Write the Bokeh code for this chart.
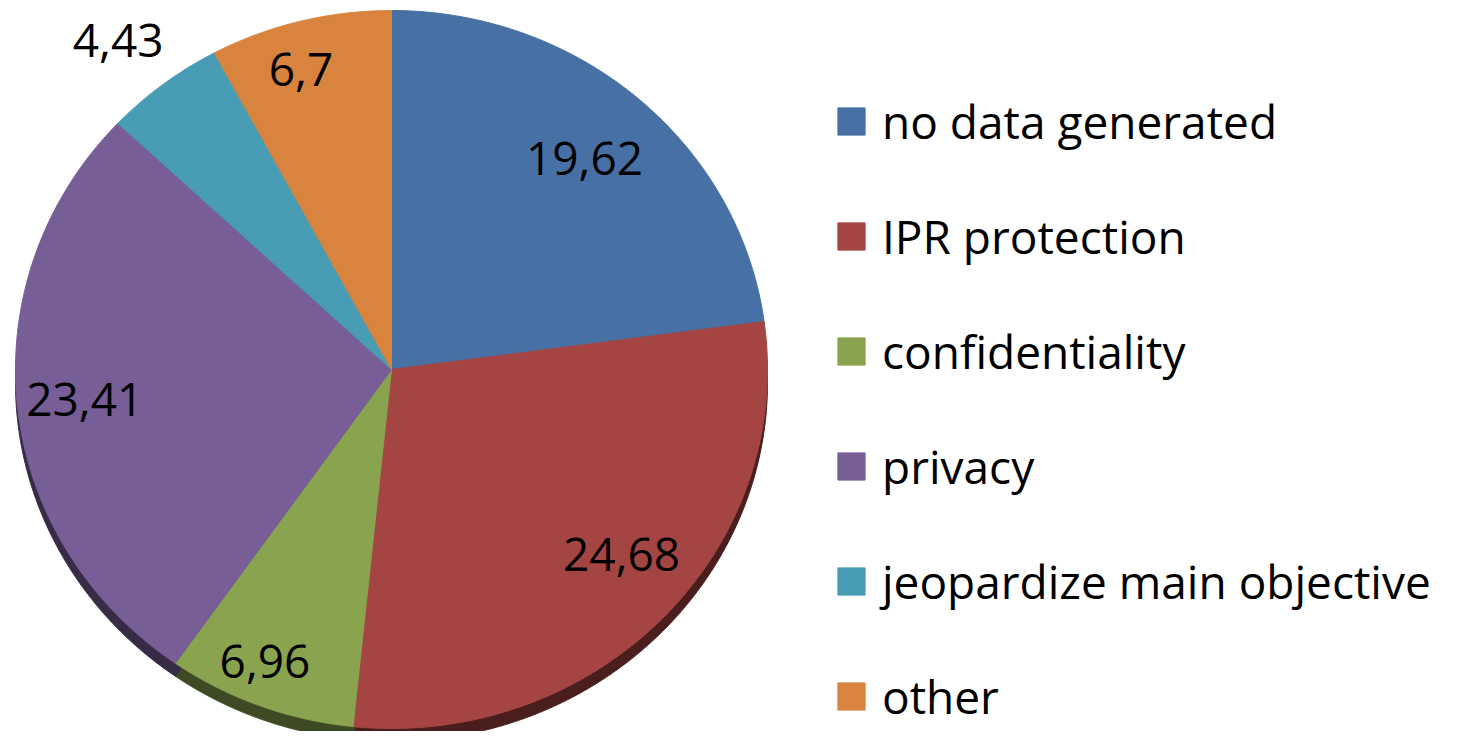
import numpy as np
from bokeh.plotting import figure, ColumnDataSource
from bokeh.models import Range1d, Legend, LegendItem
from bokeh.core.properties import value
from bokeh.embed import file_html
from bokeh.resources import INLINE

# ---- data ----
categories = ["no data generated", "IPR protection", "confidentiality",
              "privacy", "jeopardize main objective", "other"]
values = [19.62, 24.68, 6.96, 23.41, 4.43, 6.7]
value_labels = ["19,62", "24,68", "6,96", "23,41", "4,43", "6,7"]

# ---- style ----
colors = ["#4771A5", "#A54543", "#89A34F", "#785E97", "#489CB4", "#D8843F"]
rim_colors = ["#2A4263", "#4A1E1D", "#3E4A24", "#372B46", "#214855", "#633C1D"]
label_r = [0.78, 0.80, 0.88, 0.82, 1.17, 0.87]
label_da = [0, 4, -2, 0, 1, 2]
CX, CY, RX, RY, RIM = 391, 369, 376, 359, 13
FONT = "Open Sans"

W, H = 1441, 731
p = figure(width=W, height=H, output_backend="svg", toolbar_location=None,
           x_range=Range1d(0, W), y_range=Range1d(H, 0),
           min_border=0, outline_line_color=None)
p.axis.visible = False
p.grid.visible = False
p.background_fill_color = "white"
p.border_fill_color = "white"

vals = np.array(values, dtype=float)
frac = vals / vals.sum()
cum = np.concatenate([[0], np.cumsum(frac)])
start = 90 - cum[:-1] * 360
end = 90 - cum[1:] * 360

def slice_poly(a0, a1, dy=0.0):
    t = np.radians(np.linspace(a0, a1, 240))
    xs = np.concatenate([[CX], CX + RX * np.cos(t), [CX]])
    ys = np.concatenate([[CY + dy], CY + dy - RY * np.sin(t), [CY + dy]])
    return list(xs), list(ys)

rim_x, rim_y, face_x, face_y = [], [], [], []
for a0, a1 in zip(start, end):
    x, y = slice_poly(a0, a1, RIM)
    rim_x.append(x); rim_y.append(y)
    x, y = slice_poly(a0, a1)
    face_x.append(x); face_y.append(y)

p.patches(rim_x, rim_y, fill_color=rim_colors, line_color=rim_colors, line_width=1)
face_src = ColumnDataSource(dict(xs=face_x, ys=face_y, color=colors, label=categories))
face = p.patches("xs", "ys", source=face_src, fill_color="color", line_color="color",
                 line_width=1)

mid = (start + end) / 2 + np.array(label_da)
lx = CX + np.array(label_r) * RX * np.cos(np.radians(mid))
ly = CY - np.array(label_r) * RY * np.sin(np.radians(mid))
p.text(x=list(lx), y=list(ly), text=value_labels, text_align="center",
       text_baseline="middle", text_font=value(FONT), text_font_size="46px",
       text_color="black")

items = [LegendItem(label=c, renderers=[face], index=i) for i, c in enumerate(categories)]
legend = Legend(items=items, location=(834, 4), border_line_color=None,
                background_fill_alpha=0, label_text_font=FONT,
                label_text_color="black",
                label_text_font_size="46px", glyph_width=34, glyph_height=34,
                label_standoff=14, label_height=60, spacing=53, padding=0, margin=0)
p.add_layout(legend, "center")

open("out.html", "w").write(file_html(p, INLINE))
